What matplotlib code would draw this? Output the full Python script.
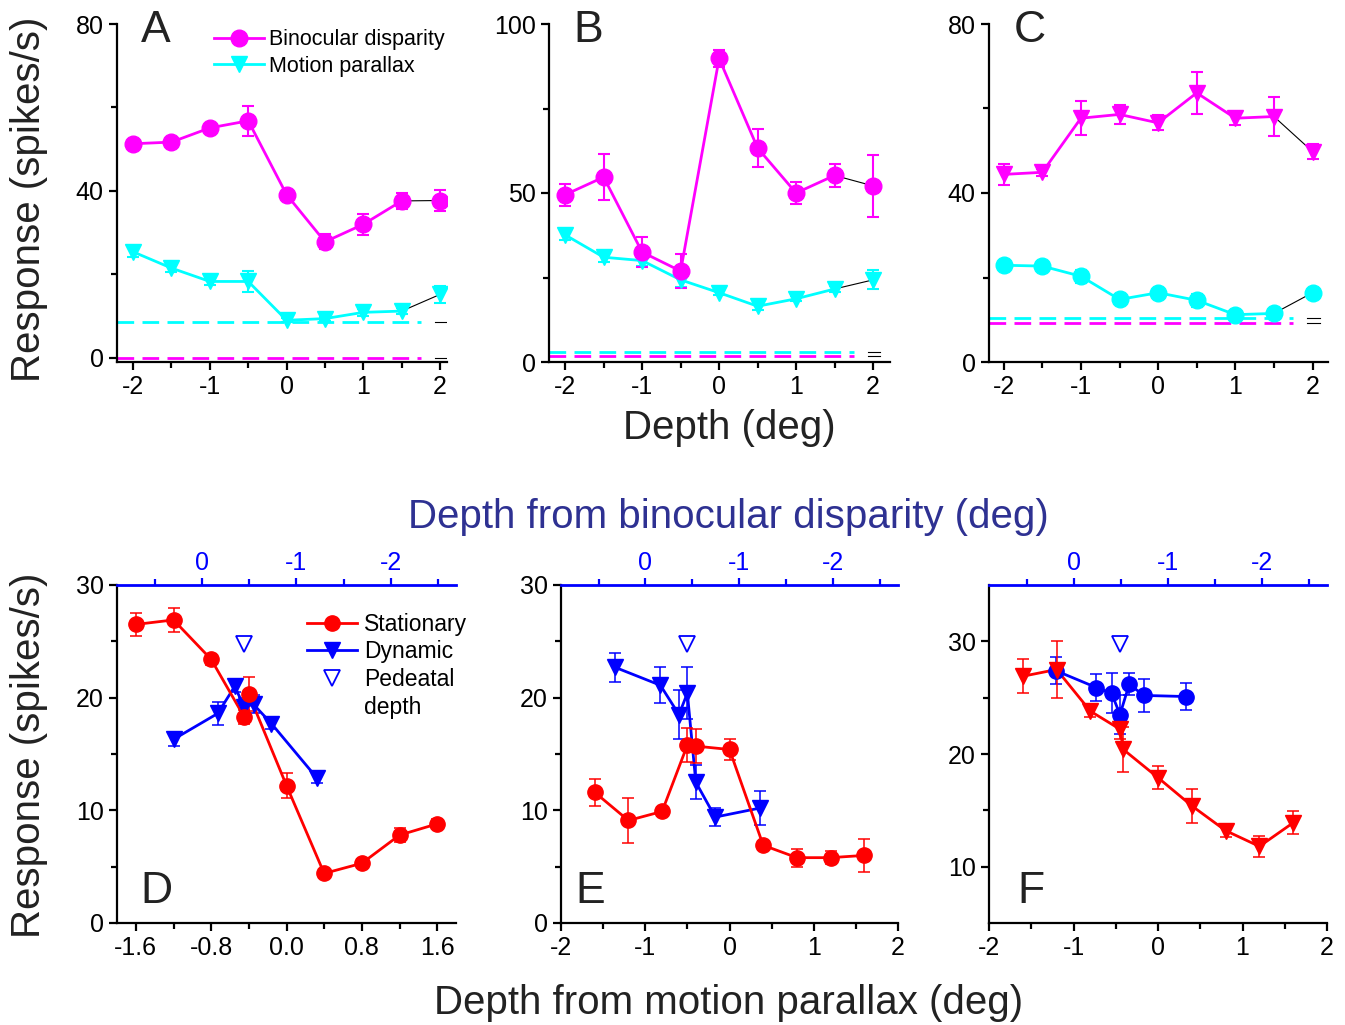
import matplotlib
matplotlib.use('Agg')
import matplotlib.pyplot as plt
from matplotlib.lines import Line2D
from matplotlib.ticker import MultipleLocator, FixedLocator
import numpy as np

plt.rcParams['font.family'] = ['Liberation Sans', 'DejaVu Sans']
plt.rcParams['axes.unicode_minus'] = False

MAG = '#ff00ff'
CYA = '#00ffff'
RED = '#ff0000'
BLU = '#0000ff'
NAVY = '#2e3192'

# ---- top row: tuning curves, binocular disparity vs motion parallax ----
depth = [-2, -1.5, -1, -0.5, 0, 0.5, 1, 1.5, 2]

A_bd = [51.3, 51.7, 55.1, 56.8, 39.1, 27.8, 32.0, 37.6, 37.7]
A_bd_err = [1.0, 0.8, 1.0, 3.6, 0.8, 1.8, 2.5, 2.0, 2.6]
A_mp = [25.4, 21.5, 18.3, 18.3, 9.0, 9.4, 10.9, 11.2, 15.2]
A_mp_err = [1.2, 1.0, 0.8, 2.5, 0.5, 0.5, 0.8, 0.8, 2.0]
A_base = [0.0, 8.6]          # spontaneous rate: disparity, parallax

B_bd = [49.5, 54.7, 32.5, 26.9, 89.8, 63.3, 50.0, 55.2, 52.1]
B_bd_err = [3.3, 6.8, 4.5, 5.0, 2.5, 5.5, 3.2, 3.5, 9.1]
B_mp = [37.6, 31.0, 30.0, 24.3, 20.5, 16.5, 18.7, 21.6, 24.3]
B_mp_err = [1.5, 1.5, 1.5, 2.0, 0.8, 1.0, 0.8, 0.8, 2.8]
B_base = [1.7, 2.9]

C_bd = [44.4, 44.9, 57.7, 58.6, 56.6, 63.7, 57.7, 58.1, 49.8]
C_bd_err = [2.5, 0.8, 4.0, 2.3, 1.8, 5.0, 1.5, 4.6, 1.8]
C_mp = [22.9, 22.7, 20.3, 14.8, 16.4, 14.6, 11.2, 11.5, 16.4]
C_mp_err = [0.8, 0.8, 1.5, 1.0, 0.8, 1.5, 0.8, 0.8, 0.8]
C_base = [9.2, 10.4]

# ---- bottom row: stationary / dynamic / pedestal ----
D_st_x = [-1.6, -1.2, -0.8, -0.45, -0.4, 0.0, 0.4, 0.8, 1.2, 1.6]
D_st = [26.5, 26.9, 23.4, 18.3, 20.3, 12.2, 4.4, 5.3, 7.8, 8.8]
D_st_err = [1.0, 1.1, 0.5, 0.6, 1.5, 1.1, 0.4, 0.4, 0.6, 0.4]
D_dy_x = [-1.2, -0.73, -0.55, -0.45, -0.35, -0.16, 0.32]
D_dy = [16.3, 18.6, 21.0, 19.2, 19.4, 17.7, 12.9]
D_dy_err = [0.6, 1.0, 0.5, 0.8, 0.8, 0.5, 0.5]
D_ped = ([-0.45], [24.8])

E_st_x = [-1.6, -1.2, -0.8, -0.5, -0.4, 0.0, 0.4, 0.8, 1.2, 1.6]
E_st = [11.6, 9.1, 9.9, 15.8, 15.7, 15.4, 6.9, 5.8, 5.8, 6.0]
E_st_err = [1.2, 2.0, 0.4, 1.5, 1.5, 0.9, 0.4, 0.8, 0.6, 1.5]
E_dy_x = [-1.36, -0.82, -0.6, -0.5, -0.4, -0.17, 0.36]
E_dy = [22.7, 21.1, 18.5, 20.4, 12.5, 9.4, 10.2]
E_dy_err = [1.3, 1.6, 2.2, 2.3, 1.5, 0.8, 1.5]
E_ped = ([-0.5], [24.8])

F_st_x = [-1.6, -1.2, -0.8, -0.45, -0.41, 0.0, 0.4, 0.8, 1.2, 1.6]
F_st = [26.9, 27.5, 23.8, 22.2, 20.4, 17.9, 15.4, 13.2, 11.8, 13.9]
F_st_err = [1.5, 2.5, 0.5, 0.9, 2.0, 1.0, 1.5, 0.6, 0.9, 1.0]
F_dy_x = [-1.21, -0.73, -0.55, -0.45, -0.34, -0.17, 0.33]
F_dy = [27.4, 25.9, 25.4, 23.5, 26.2, 25.2, 25.1]
F_dy_err = [1.2, 1.2, 1.8, 1.7, 1.0, 1.5, 1.2]
F_ped = ([-0.45], [29.8])

TICK_FS = 18
LAB_FS = 29

fig = plt.figure(figsize=(13.45, 10.25), dpi=100)
W, H = 1345.0, 1025.0


def px_axes(x0, x1, y0, y1):
    return fig.add_axes([x0 / W, 1 - y1 / H, (x1 - x0) / W, (y1 - y0) / H])


def base_style(ax):
    for s in ['top', 'right']:
        ax.spines[s].set_visible(False)
    for s in ['left', 'bottom']:
        ax.spines[s].set_linewidth(1.6)
    ax.tick_params(which='major', length=6, width=1.6, labelsize=TICK_FS, direction='out')
    ax.tick_params(which='minor', length=4, width=1.6, direction='out')


def curve(ax, x, y, err, color, marker, ms, lw=2, elw=1.5, black_last=True):
    ax.errorbar(x, y, yerr=err, fmt='none', ecolor=color, elinewidth=elw,
                capsize=4, capthick=elw, zorder=2)
    if black_last:
        ax.plot(x[:-1], y[:-1], color=color, lw=lw, zorder=2)
        ax.plot(x[-2:], y[-2:], color='black', lw=0.8, zorder=1)
    else:
        ax.plot(x, y, color=color, lw=lw, zorder=2)
    ax.plot(x, y, ls='none', marker=marker, ms=ms, color=color, mec=color, zorder=3)


def baselines(ax, vals, colors, xend=1.75):
    x0 = ax.get_xlim()[0]
    for v, c in zip(vals, colors):
        ax.plot([x0, xend], [v, v], color=c, lw=2, ls=(0, (6, 3)), zorder=1)
        ax.plot([1.93, 2.09], [v, v], color='black', lw=0.8, zorder=1)


def top_panel(ax, bd, bd_err, mp, mp_err, base, ylim, ymaj, letter, bd_m, mp_m, xlim):
    base_style(ax)
    ax.set_xlim(*xlim)
    ax.set_ylim(*ylim)
    baselines(ax, base, [MAG, CYA])
    curve(ax, depth, mp, mp_err, CYA, mp_m, 12)
    curve(ax, depth, bd, bd_err, MAG, bd_m, 12)
    ax.xaxis.set_major_locator(MultipleLocator(1))
    ax.xaxis.set_minor_locator(MultipleLocator(0.5))
    ax.yaxis.set_major_locator(MultipleLocator(ymaj))
    ax.yaxis.set_minor_locator(MultipleLocator(ymaj / 2))
    ax.text(0.072, 1.04, letter, transform=ax.transAxes, fontsize=32,
            va='top', ha='left', color='#222222')


axA = px_axes(117, 447, 24, 362)
axB = px_axes(549, 890, 24, 362)
axC = px_axes(989, 1328, 24, 362)

top_panel(axA, A_bd, A_bd_err, A_mp, A_mp_err, A_base, (-1, 80), 40, 'A', 'o', 'v', (-2.21, 2.09))
top_panel(axB, B_bd, B_bd_err, B_mp, B_mp_err, B_base, (0, 100), 50, 'B', 'o', 'v', (-2.21, 2.22))
top_panel(axC, C_bd, C_bd_err, C_mp, C_mp_err, C_base, (0, 80), 40, 'C', 'v', 'o', (-2.19, 2.2))

legA = [Line2D([], [], color=MAG, marker='o', ms=12, lw=2),
        Line2D([], [], color=CYA, marker='v', ms=12, lw=2)]
axA.legend(legA, ['Binocular disparity', 'Motion parallax'], loc='upper right',
           bbox_to_anchor=(1.02, 1.01), frameon=False, fontsize=15.5,
           handlelength=2.3, handletextpad=0.25, labelspacing=0.25, borderaxespad=0)


def bottom_panel(ax, st_x, st, st_err, dy_x, dy, dy_err, ped, st_m, dy_m, letter, lx):
    base_style(ax)
    ax.spines['top'].set_visible(False)
    curve(ax, dy_x, dy, dy_err, BLU, dy_m, 11, lw=2, elw=1.1, black_last=False)
    curve(ax, st_x, st, st_err, RED, st_m, 11, lw=2, elw=1.1, black_last=False)
    ax.plot(ped[0], ped[1], ls='none', marker='v', ms=12, mfc='none', mec=BLU, mew=1.3, zorder=3)
    ax.text(lx, 0.059, letter, transform=ax.transAxes, fontsize=32,
            va='baseline', ha='left', color='#222222')
    # depth from binocular disparity along the top
    tw = ax.twiny()
    tw.set_xlim(0.9, -2.69)
    for s in ['left', 'right', 'bottom']:
        tw.spines[s].set_visible(False)
    tw.spines['top'].set_color(BLU)
    tw.spines['top'].set_linewidth(2)
    tw.xaxis.set_major_locator(FixedLocator([0, -1, -2]))
    tw.xaxis.set_minor_locator(FixedLocator([0.5, -0.5, -1.5, -2.5]))
    tw.tick_params(which='major', length=5, width=1.6, color=BLU, labelcolor=BLU,
                   labelsize=TICK_FS, direction='out', pad=2)
    tw.tick_params(which='minor', length=4, width=1.6, color=BLU, direction='out')


axD = px_axes(117, 456, 585, 923)
axE = px_axes(561, 898, 585, 923)
axF = px_axes(989, 1327, 585, 923)

axD.set_xlim(-1.8, 1.8)
axD.set_ylim(0, 30)
bottom_panel(axD, D_st_x, D_st, D_st_err, D_dy_x, D_dy, D_dy_err, D_ped, 'o', 'v', 'D', 0.068)
axD.xaxis.set_major_locator(FixedLocator([-1.6, -0.8, 0.0, 0.8, 1.6]))
axD.xaxis.set_minor_locator(FixedLocator([-1.2, -0.4, 0.4, 1.2]))
axD.set_xticklabels(['-1.6', '-0.8', '0.0', '0.8', '1.6'])
axD.yaxis.set_major_locator(MultipleLocator(10))
axD.yaxis.set_minor_locator(MultipleLocator(5))

axE.set_xlim(-2, 2)
axE.set_ylim(0, 30)
bottom_panel(axE, E_st_x, E_st, E_st_err, E_dy_x, E_dy, E_dy_err, E_ped, 'o', 'v', 'E', 0.042)
axE.xaxis.set_major_locator(MultipleLocator(1))
axE.xaxis.set_minor_locator(MultipleLocator(0.5))
axE.yaxis.set_major_locator(MultipleLocator(10))
axE.yaxis.set_minor_locator(MultipleLocator(5))

axF.set_xlim(-2, 2)
axF.set_ylim(5, 35)
bottom_panel(axF, F_st_x, F_st, F_st_err, F_dy_x, F_dy, F_dy_err, F_ped, 'v', 'o', 'F', 0.083)
axF.xaxis.set_major_locator(MultipleLocator(1))
axF.xaxis.set_minor_locator(MultipleLocator(0.5))
axF.yaxis.set_major_locator(FixedLocator([10, 20, 30]))
axF.yaxis.set_minor_locator(FixedLocator([15, 25]))

legD = [Line2D([], [], color=RED, marker='o', ms=11, lw=2),
        Line2D([], [], color=BLU, marker='v', ms=11, lw=2),
        Line2D([], [], ls='none', marker='v', ms=12, mfc='none', mec=BLU, mew=1.3)]
axD.legend(legD, ['Stationary', 'Dynamic', 'Pedeatal'], loc='upper right',
           bbox_to_anchor=(1.06, 0.945), frameon=False, fontsize=16.5,
           handlelength=2.2, handletextpad=0.3, labelspacing=0.2, borderaxespad=0)
axD.text(0.73, 0.639, 'depth', transform=axD.transAxes, fontsize=16.5, va='center', ha='left')

# shared labels
fig.text(29 / W, 1 - 199 / H, 'Response (spikes/s)', rotation=90, fontsize=LAB_FS,
         ha='center', va='center', color='#222222')
fig.text(29 / W, 1 - 755 / H, 'Response (spikes/s)', rotation=90, fontsize=LAB_FS,
         ha='center', va='center', color='#222222')
fig.text(729 / W, 1 - 428 / H, 'Depth (deg)', fontsize=LAB_FS,
         ha='center', va='center', color='#222222')
fig.text(728 / W, 1 - 517 / H, 'Depth from binocular disparity (deg)', fontsize=LAB_FS,
         ha='center', va='center', color=NAVY)
fig.text(729 / W, 1 - 1003 / H, 'Depth from motion parallax (deg)', fontsize=LAB_FS,
         ha='center', va='center', color='#222222')

fig.savefig('out.png', dpi=100)
